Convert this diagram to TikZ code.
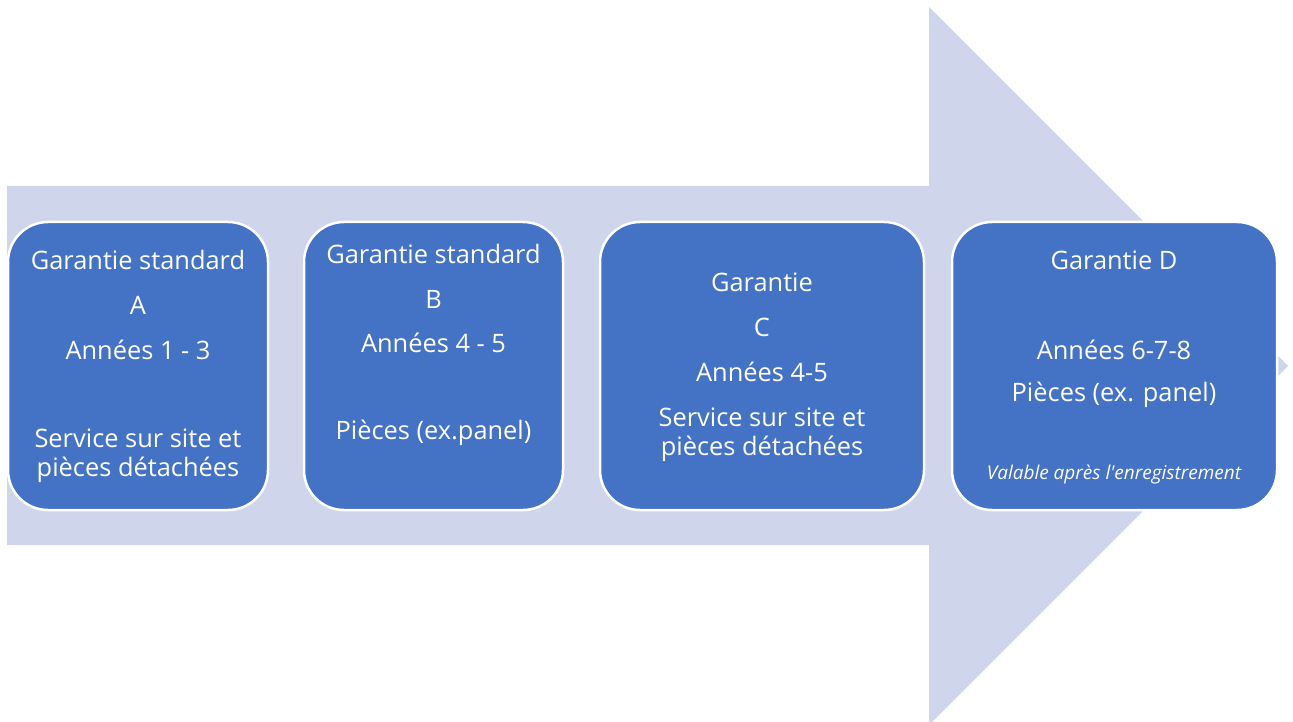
\documentclass[tikz,border=0pt]{standalone}
\usepackage{fontspec}
\setmainfont{Open Sans}
\definecolor{arrowfill}{HTML}{CFD5EA}
\definecolor{boxfill}{HTML}{4472C4}
\begin{document}
\begin{tikzpicture}[x=1pt,y=-1pt,
  box/.style={draw=white,line width=2.5pt,fill=boxfill,rounded corners=40pt},
  txt/.style={text=white,font=\fontsize{25.4}{30}\selectfont,inner sep=0pt,anchor=center},
  small/.style={text=white,font=\fontsize{19}{22}\selectfont\itshape,inner sep=0pt,anchor=center}]
\useasboundingbox (0,0) rectangle (1293,722);
% big arrow
\fill[arrowfill] (7,186) -- (929,186) -- (929,7) -- (1288,366) -- (929,725) -- (929,545) -- (7,545) -- cycle;
% boxes
\draw[box] (8,222) rectangle (268,510);
\draw[box] (304,222) rectangle (563,510);
\draw[box] (600,222) rectangle (924,510);
\draw[box] (952,222) rectangle (1277,510);
% box A
\node[txt] (a1) at (138,260) {Garantie standard};
\node[txt] (a2) at (138,305) {A};
\node[txt] (a3) at (138,350) {Années 1 - 3};
\node[txt] (a4) at (138,438) {Service sur site et};
\node[txt] (a5) at (138,470) {pièces détachées};
% box B
\node[txt] (b1) at (433.5,254) {Garantie standard};
\node[txt] (b2) at (433.5,299) {B};
\node[txt] (b3) at (433.5,343) {Années 4 - 5};
\node[txt] (b4) at (433.5,433) {Pièces (ex.panel)};
% box C
\node[txt] (c1) at (762,282) {Garantie};
\node[txt] (c2) at (762,327) {C};
\node[txt] (c3) at (762,372) {Années 4-5};
\node[txt] (c4) at (762,417) {Service sur site et};
\node[txt] (c5) at (762,449) {pièces détachées};
% box D
\node[txt] (d1) at (1114,260) {Garantie D};
\node[txt] (d2) at (1114,350) {Années 6-7-8};
\node[txt] (d3) at (1114,395) {Pièces (ex. panel)};
\node[small] (d4) at (1114,475) {Valable après l\textquotesingle enregistrement};
\end{tikzpicture}
\end{document}
